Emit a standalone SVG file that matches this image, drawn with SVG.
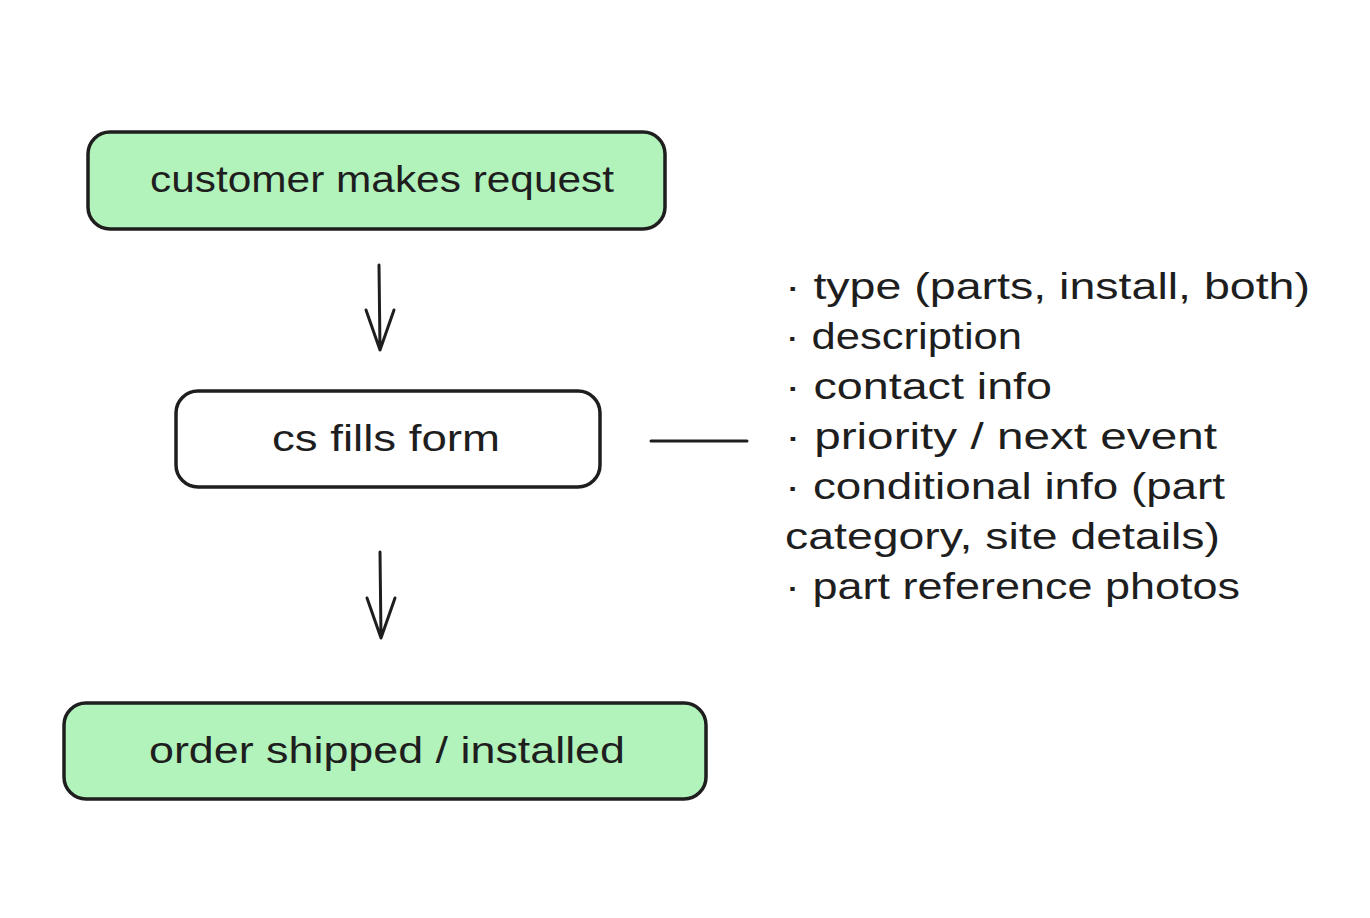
<svg xmlns="http://www.w3.org/2000/svg" width="1370" height="918" viewBox="0 0 1370 918">
<style>
.box{stroke:#1e1e1e;stroke-width:3.5}
.g{fill:#b2f2bb}
.w{fill:#ffffff}
.t{font-family:"Liberation Sans",Arial,sans-serif;font-size:36px;fill:#1e1e1e}
.c{stroke:#1e1e1e;stroke-width:3;fill:none;stroke-linecap:round;stroke-linejoin:round}
</style>
<rect width="1370" height="918" fill="#ffffff"/>
<g id="node-request">
<rect class="box g" x="88" y="132" width="577" height="97" rx="22"/>
<text class="t" x="150" y="192" textLength="464" lengthAdjust="spacingAndGlyphs">customer makes request</text>
</g>
<g id="node-form">
<rect class="box w" x="176" y="391" width="424" height="96" rx="22"/>
<text class="t" x="272" y="451" textLength="228" lengthAdjust="spacingAndGlyphs">cs fills form</text>
</g>
<g id="node-shipped">
<rect class="box g" x="64" y="703" width="642" height="96" rx="22"/>
<text class="t" x="149" y="763" textLength="476" lengthAdjust="spacingAndGlyphs">order shipped / installed</text>
</g>
<g id="node-notes">
<text class="t" x="785" y="299" textLength="525" lengthAdjust="spacingAndGlyphs">· type (parts, install, both)</text>
<text class="t" x="785" y="349" textLength="237" lengthAdjust="spacingAndGlyphs">· description</text>
<text class="t" x="785" y="399" textLength="267" lengthAdjust="spacingAndGlyphs">· contact info</text>
<text class="t" x="785" y="449" textLength="432" lengthAdjust="spacingAndGlyphs">· priority / next event</text>
<text class="t" x="785" y="499" textLength="440" lengthAdjust="spacingAndGlyphs">· conditional info (part</text>
<text class="t" x="785" y="549" textLength="435" lengthAdjust="spacingAndGlyphs">category, site details)</text>
<text class="t" x="785" y="599" textLength="455" lengthAdjust="spacingAndGlyphs">· part reference photos</text>
</g>
<g id="connectors">
<path class="c" d="M379 265 L380 350 M366 310 L380 350 L394 310"/>
<path class="c" d="M380 552 L381 638 M367 598 L381 638 L395 598"/>
<path class="c" d="M651 441 L747 441"/>
</g>
</svg>
